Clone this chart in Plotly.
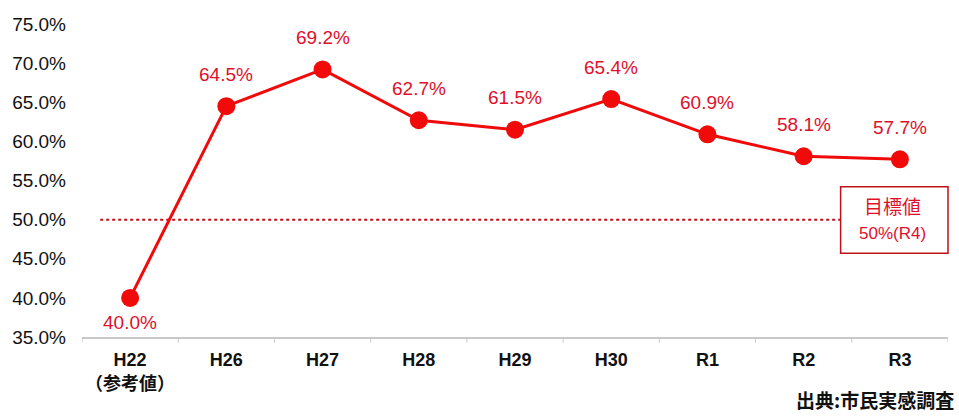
import plotly.graph_objects as go

categories = ["H22<br>（参考値）", "H26", "H27", "H28", "H29", "H30", "R1", "R2", "R3"]
values = [40.0, 64.5, 69.2, 62.7, 61.5, 65.4, 60.9, 58.1, 57.7]
label_below = [True, False, False, False, False, False, False, False, False]
target_value = 50.0
target_title = "目標値"
target_note = "50%(R4)"
source_text = "出典:市民実感調査"
y_ticks = [35, 40, 45, 50, 55, 60, 65, 70, 75]

RED = "#f00a0a"
LABEL_RED = "#e0102a"
DARK_RED = "#c0101a"
LATIN = "Liberation Sans, Arial"

fig = go.Figure()
fig.add_trace(go.Scatter(
    x=list(range(len(categories))), y=values,
    mode="lines+markers",
    line=dict(color=RED, width=3),
    marker=dict(color=RED, size=18),
    cliponaxis=False,
    hoverinfo="skip",
))

for i, (v, below) in enumerate(zip(values, label_below)):
    fig.add_annotation(x=i, y=v, xref="x", yref="y",
                       text=f"{v:.1f}%", showarrow=False,
                       yshift=-25 if below else 32,
                       font=dict(color=LABEL_RED, size=19, family=LATIN))

# target dotted line
fig.add_shape(type="line", xref="paper", yref="y",
              x0=0.021, x1=0.876, y0=target_value, y1=target_value,
              line=dict(color=DARK_RED, width=2, dash="dot"), layer="below")
# target box
fig.add_shape(type="rect", xref="paper", yref="y",
              x0=0.876, x1=1.0, y0=45.7, y1=54.2,
              line=dict(color=DARK_RED, width=1.5), fillcolor="white")
fig.add_annotation(xref="paper", yref="y", x=0.936, y=51.8,
                   xanchor="center", yanchor="middle",
                   text=target_title, showarrow=False,
                   font=dict(color=LABEL_RED, size=19, family="Noto Sans CJK JP"))
fig.add_annotation(xref="paper", yref="y", x=0.936, y=48.2,
                   xanchor="center", yanchor="middle",
                   text=target_note, showarrow=False,
                   font=dict(color=LABEL_RED, size=17, family=LATIN))

fig.add_annotation(xref="paper", yref="paper", x=1.009, y=-0.2,
                   xanchor="right", yanchor="middle",
                   text=f"<b>{source_text}</b>", showarrow=False,
                   font=dict(color="#111111", size=19, family="Noto Sans CJK JP"))

fig.update_layout(
    width=959, height=416,
    margin=dict(l=82, r=11, t=24, b=79),
    plot_bgcolor="white", paper_bgcolor="white",
    showlegend=False,
    font=dict(family=LATIN, color="#111111"),
)
fig.update_xaxes(
    range=[-0.5, len(categories) - 0.5],
    tickmode="array", tickvals=list(range(len(categories))),
    ticktext=[f"<b>{c}</b>" for c in categories],
    showgrid=False, zeroline=False,
    showline=True, linecolor="#c8c8c8", linewidth=1.5,
    ticks="", tickfont=dict(size=18, family="Liberation Sans, Noto Sans CJK JP", color="#111111"),
    ticklabelstandoff=6,
    fixedrange=True,
)
# category boundary tick marks
for i in range(len(categories) + 1):
    fig.add_shape(type="line", xref="x", yref="paper",
                  x0=i - 0.5, x1=i - 0.5, y0=0, y1=-0.018,
                  line=dict(color="#c8c8c8", width=1))

fig.update_yaxes(
    range=[35, 75], tickvals=y_ticks,
    ticktext=[f"{t:.1f}%" for t in y_ticks],
    showgrid=False, zeroline=False, showline=False,
    tickfont=dict(size=19, family=LATIN, color="#111111"),
    ticks="", ticklabelstandoff=15,
    fixedrange=True,
)

fig.write_html("out.html", config={"displayModeBar": False},
               post_script="document.body.style.margin='0';")
